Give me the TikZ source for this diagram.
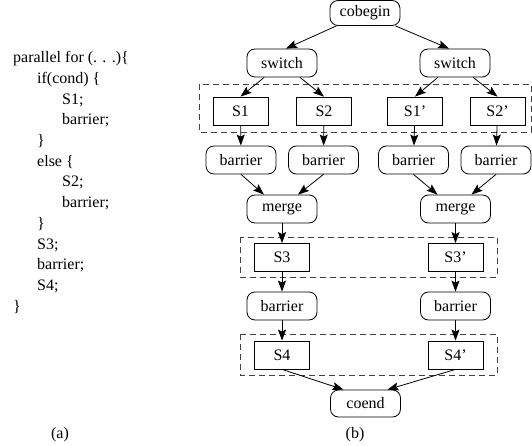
\documentclass[tikz,border=0pt]{standalone}
\usepackage{fontspec}
\setmainfont{Liberation Serif}
\usetikzlibrary{arrows.meta}
\begin{document}
\begin{tikzpicture}[x=1pt,y=-1pt,
  every node/.style={font=\fontsize{16}{20}\selectfont},
  rbox/.style={draw, line width=0.8pt, rounded corners=8pt, minimum width=70pt,
    minimum height=28pt, inner sep=0pt},
  sbox/.style={draw, line width=0.8pt, minimum width=55pt, minimum height=28pt, inner sep=0pt},
  arr/.style={-{Stealth[length=11pt,width=8pt,inset=2pt]}, line width=0.8pt},
  group/.style={draw=black!75, dash pattern=on 6pt off 4pt, line width=0.7pt},
  code/.style={anchor=base west, inner sep=0pt}]
\useasboundingbox (0,0) rectangle (532,446);

% pseudo-code listing
\node[code] (c1)  at (13,63)     {parallel for (. . .)\{};
\node[code] (c2)  at (37,83.7)   {if(cond) \{};
\node[code] (c3)  at (62,104.3)  {S1;};
\node[code] (c4)  at (62,125)    {barrier;};
\node[code] (c5)  at (37,145.7)  {\}};
\node[code] (c6)  at (37,166.3)  {else \{};
\node[code] (c7)  at (62,187)    {S2;};
\node[code] (c8)  at (62,207.7)  {barrier;};
\node[code] (c9)  at (37,228.3)  {\}};
\node[code] (c10) at (37,249)    {S3;};
\node[code] (c11) at (37,269.7)  {barrier;};
\node[code] (c12) at (37,290.3)  {S4;};
\node[code] (c13) at (13,311)    {\}};

% grouping frames
\draw[group] (199,84) rectangle (531,132);
\draw[group] (240,237) rectangle (497,277);
\draw[group] (240,334) rectangle (497,375);

% task graph
\node[rbox, minimum height=25pt] (cob) at (365,13) {cobegin};
\node[rbox] (swL) at (282,63) {switch};
\node[rbox] (swR) at (455,63) {switch};
\node[sbox] (s1)  at (240.5,111) {S1};
\node[sbox] (s2)  at (324,111)   {S2};
\node[sbox] (s1p) at (415,111)   {S1’};
\node[sbox] (s2p) at (497.5,111) {S2’};
\node[rbox] (bL1) at (241,160)   {barrier};
\node[rbox] (bL2) at (323.5,160) {barrier};
\node[rbox] (bR1) at (413.5,160) {barrier};
\node[rbox] (bR2) at (496,160)   {barrier};
\node[rbox] (mL)  at (282,209)   {merge};
\node[rbox] (mR)  at (455.5,209) {merge};
\node[sbox] (s3)  at (282,257.5) {S3};
\node[sbox] (s3p) at (455.5,257.5) {S3’};
\node[rbox] (cL)  at (282,306)   {barrier};
\node[rbox] (cR)  at (455.5,306) {barrier};
\node[sbox] (s4)  at (282,355)   {S4};
\node[sbox] (s4p) at (455.5,355) {S4’};
\node[rbox, minimum height=27pt] (coe) at (365.5,403.5) {coend};

\node (la) at (60,435)  {(a)};
\node (lb) at (355,435) {(b)};

% edges
\draw[arr] (cob) -- ([xshift=4pt]swL.north);
\draw[arr] (cob) -- ([xshift=-6pt]swR.north);
\draw[arr] (swL) -- (s1.north);
\draw[arr] (swL) -- (s2.north);
\draw[arr] (swR) -- (s1p.north);
\draw[arr] (swR) -- (s2p.north);
\draw[arr] (s1)  -- (bL1);
\draw[arr] (s2)  -- (bL2);
\draw[arr] (s1p) -- (bR1);
\draw[arr] (s2p) -- (bR2);
\draw[arr] (bL1.south) -- ([xshift=-18pt]mL.north);
\draw[arr] (bL2.south) -- ([xshift=16pt]mL.north);
\draw[arr] (bR1.south) -- ([xshift=-18pt]mR.north);
\draw[arr] (bR2.south) -- ([xshift=16pt]mR.north);
\draw[arr] (mL)  -- (s3);
\draw[arr] (mR)  -- (s3p);
\draw[arr] (s3)  -- (cL);
\draw[arr] (s3p) -- (cR);
\draw[arr] (cL)  -- (s4);
\draw[arr] (cR)  -- (s4p);
\draw[arr] (s4.south)  -- ([xshift=-22pt]coe.north);
\draw[arr] (s4p.south) -- ([xshift=22pt]coe.north);
\end{tikzpicture}
\end{document}
